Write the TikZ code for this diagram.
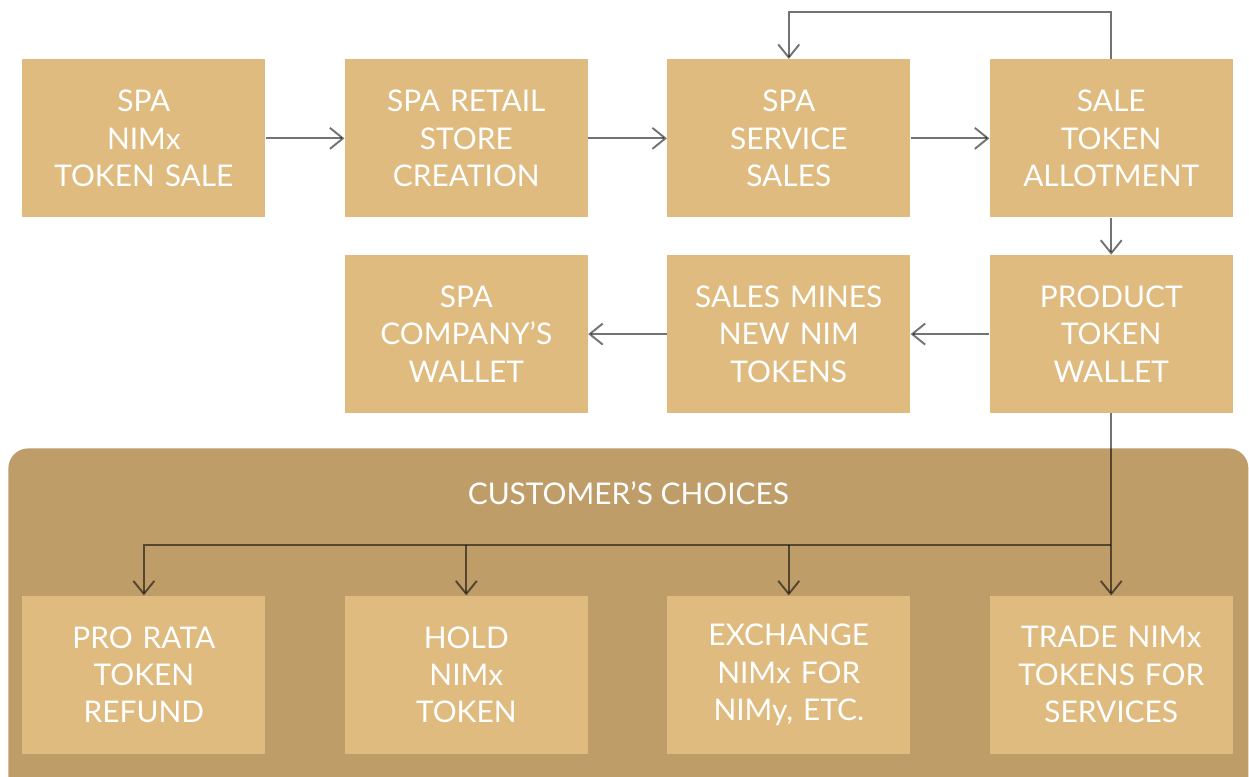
\documentclass[tikz,border=0pt]{standalone}
\usepackage{fontspec}
\setmainfont{Lato}
\usepackage{xcolor}
\usetikzlibrary{positioning,arrows.meta}
\definecolor{boxtan}{HTML}{DFBB80}
\definecolor{panelbrown}{HTML}{BF9D69}
\tikzset{
  stage/.style={rectangle, fill=boxtan, text=white, minimum width=4.86cm,
    minimum height=3.16cm, text width=4.6cm, align=center, inner sep=0pt,
    font=\fontsize{17}{21.3}\selectfont},
  panel/.style={rectangle, fill=panelbrown, rounded corners=0.4cm,
    minimum width=24.8cm, minimum height=7.04cm, anchor=north west},
  flow/.style={draw=black, draw opacity=0.55, line width=1.1pt},
}

\begin{document}
\begin{tikzpicture}[auto,node distance=1.575cm,>={Straight Barb[length=2.6mm,width=4.2mm]}]
  \useasboundingbox (0,0) rectangle (24.98,-15.52);
  \node[panel] (panel) at (0.16,-8.96) {};
  \node[text=white, font=\fontsize{17}{21.3}\selectfont] (ctitle) at ([yshift=-0.9cm]panel.north) {CUSTOMER'S CHOICES};
  \coordinate (bus) at (0,-10.9);

  \node[stage, anchor=north west] (sale) at (0.44,-1.18) {SPA\\NIMx\\TOKEN SALE};
  \node[stage] (store) [right = of sale] {SPA RETAIL\\STORE\\CREATION};
  \node[stage] (service) [right = of store] {SPA\\SERVICE\\SALES};
  \node[stage] (allot) [right = of service] {SALE\\TOKEN\\ALLOTMENT};
  \node[stage] (prod) [below = 0.74cm of allot] {PRODUCT\\TOKEN\\WALLET};
  \node[stage] (mines) [left = of prod] {SALES MINES\\NEW NIM\\TOKENS};
  \node[stage] (wallet) [left = of mines] {SPA\\COMPANY'S\\WALLET};
  \node[stage] (trade) [below = 3.64cm of prod] {TRADE NIMx\\TOKENS FOR\\SERVICES};
  \node[stage] (exch) [left = of trade] {EXCHANGE\\NIMx FOR\\NIMy, ETC.};
  \node[stage] (hold) [left = of exch] {HOLD\\NIMx\\TOKEN};
  \node[stage] (refund) [left = of hold] {PRO RATA\\TOKEN\\REFUND};

  \draw[flow,->] (sale) edge (store);
  \draw[flow,->] (store) edge (service);
  \draw[flow,->] (service) edge (allot);
  \draw[flow,->] (allot.north) -- ++(0,0.94) -| (service);
  \draw[flow,->] (allot) edge (prod);
  \draw[flow,->] (prod) edge (mines);
  \draw[flow,->] (mines) edge (wallet);
  \draw[flow,->] (prod) -- (trade);
  \draw[flow,->] (prod |- bus) -| (refund);
  \draw[flow,->] (hold |- bus) -- (hold);
  \draw[flow,->] (exch |- bus) -- (exch);
\end{tikzpicture}
\end{document}
